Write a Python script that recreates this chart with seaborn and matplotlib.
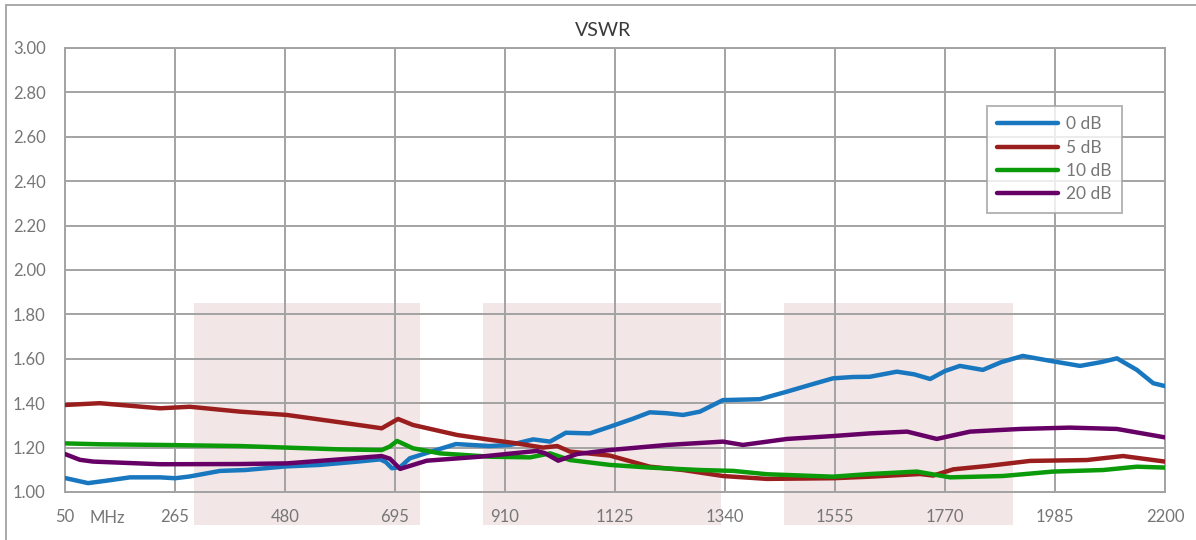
import numpy as np
import pandas as pd
import matplotlib
matplotlib.use("Agg")
import matplotlib.pyplot as plt
import matplotlib.transforms as mtransforms
from matplotlib.patches import Rectangle
import seaborn as sns

# Data (frequency in MHz, VSWR)
freq_0db = [50, 95, 128, 177, 236, 265, 294, 353, 402, 480, 548, 627, 666, 677, 689, 705,
            724, 763, 814, 880, 920, 965, 998, 1029, 1076, 1115, 1160, 1193, 1225, 1258,
            1291, 1336, 1408, 1461, 1510, 1551, 1590, 1623, 1676, 1710, 1741, 1770, 1799,
            1844, 1880, 1922, 1975, 2034, 2075, 2106, 2145, 2177, 2200]
vswr_0db = [1.063, 1.040, 1.050, 1.066, 1.066, 1.062, 1.070, 1.095, 1.099, 1.115, 1.122,
            1.138, 1.147, 1.135, 1.107, 1.112, 1.152, 1.180, 1.216, 1.207, 1.212, 1.237,
            1.227, 1.267, 1.264, 1.294, 1.330, 1.359, 1.355, 1.347, 1.362, 1.414, 1.418,
            1.452, 1.485, 1.512, 1.518, 1.519, 1.542, 1.530, 1.509, 1.545, 1.568, 1.550,
            1.585, 1.613, 1.591, 1.568, 1.585, 1.602, 1.550, 1.490, 1.477]

freq_5db = [50, 118, 236, 294, 392, 484, 587, 669, 701, 730, 816, 875, 933, 984, 1012,
            1037, 1115, 1193, 1258, 1336, 1422, 1551, 1623, 1721, 1747, 1786, 1852, 1936,
            2047, 2118, 2200]
vswr_5db = [1.392, 1.400, 1.377, 1.384, 1.362, 1.347, 1.314, 1.287, 1.329, 1.302, 1.257,
            1.237, 1.219, 1.200, 1.207, 1.182, 1.164, 1.114, 1.099, 1.072, 1.059, 1.062,
            1.069, 1.081, 1.074, 1.102, 1.117, 1.140, 1.144, 1.162, 1.137]

freq_10db = [50, 118, 236, 392, 587, 669, 685, 699, 730, 783, 881, 959, 998, 1037, 1115,
             1193, 1291, 1356, 1422, 1551, 1623, 1715, 1780, 1883, 1981, 2079, 2145, 2200]
vswr_10db = [1.219, 1.215, 1.212, 1.207, 1.192, 1.189, 1.205, 1.230, 1.197, 1.174, 1.159,
             1.156, 1.174, 1.144, 1.122, 1.110, 1.099, 1.095, 1.080, 1.069, 1.081, 1.092,
             1.066, 1.072, 1.092, 1.099, 1.114, 1.110]

freq_20db = [50, 79, 105, 236, 392, 484, 587, 669, 685, 705, 757, 861, 972, 988, 1014,
             1051, 1115, 1227, 1336, 1375, 1461, 1551, 1623, 1696, 1754, 1819, 1917, 2014,
             2106, 2200]
vswr_20db = [1.171, 1.145, 1.137, 1.125, 1.126, 1.129, 1.147, 1.162, 1.150, 1.104, 1.141,
             1.159, 1.185, 1.175, 1.141, 1.171, 1.189, 1.212, 1.227, 1.212, 1.239, 1.252,
             1.264, 1.272, 1.239, 1.272, 1.284, 1.290, 1.284, 1.246]

series_names = ["0 dB", "5 dB", "10 dB", "20 dB"]
series_colors = ["#1877BE", "#9B1E1E", "#0A9A0A", "#660066"]

# shaded frequency bands (MHz)
band_starts = [302, 867, 1455]
band_ends = [744, 1332, 1903]

x_ticks = [50, 265, 480, 695, 910, 1125, 1340, 1555, 1770, 1985, 2200]
y_ticks = [1.00, 1.20, 1.40, 1.60, 1.80, 2.00, 2.20, 2.40, 2.60, 2.80, 3.00]

frames = []
for name, f, v in zip(series_names,
                      [freq_0db, freq_5db, freq_10db, freq_20db],
                      [vswr_0db, vswr_5db, vswr_10db, vswr_20db]):
    frames.append(pd.DataFrame({"freq": f, "vswr": v, "series": name}))
df = pd.concat(frames, ignore_index=True)

sns.set_style("white")
plt.rcParams["font.family"] = ["Lato", "DejaVu Sans"]

grid_col = "#A3A3A3"
text_col = "#767676"

fig = plt.figure(figsize=(11.96, 5.40), dpi=100)
ax = fig.add_axes([65 / 1196, 48 / 540, 1100 / 1196, 444 / 540])

# outer chart border
fig.patches.append(Rectangle((6 / 1196, -0.1), 1.2, 1.1 - 5 / 540,
                             transform=fig.transFigure, fill=False,
                             edgecolor=grid_col, linewidth=1.3))

for s, e in zip(band_starts, band_ends):
    ax.add_patch(Rectangle((s, 0.85), e - s, 1.0, facecolor="#F2E6E6",
                           edgecolor="none", zorder=0.3, clip_on=False))

sns.lineplot(data=df, x="freq", y="vswr", hue="series", hue_order=series_names,
             palette=dict(zip(series_names, series_colors)), estimator=None,
             linewidth=3.2, ax=ax, zorder=3)
for ln in ax.get_lines():
    ln.set_solid_joinstyle("round")
    ln.set_solid_capstyle("round")

ax.set_xlim(50, 2200)
ax.set_ylim(1.0, 3.0)
ax.set_xticks(x_ticks)
ax.set_yticks(y_ticks)
ax.set_xticklabels([str(t) for t in x_ticks])
ax.set_yticklabels([f"{t:.2f}" for t in y_ticks])
ax.set_axisbelow(True)
ax.grid(True, color=grid_col, linewidth=1.4)
for sp in ax.spines.values():
    sp.set_color(grid_col)
    sp.set_linewidth(1.4)
ax.tick_params(axis="both", length=0, labelsize=12, labelcolor=text_col)
ax.tick_params(axis="y", pad=14)
ax.tick_params(axis="x", pad=12)
ax.set_xlabel("")
ax.set_ylabel("")

trans = mtransforms.blended_transform_factory(ax.transData, ax.transAxes)
ax.text(132, -26 / 444, "MHz", transform=trans, ha="center", va="center",
        fontsize=12, color=text_col)

fig.text(603 / 1196, 1 - 30 / 540, "VSWR", ha="center", va="center",
         fontsize=14, color="#3A3A3A")

leg = ax.legend(loc="upper left", bbox_to_anchor=(987 / 1196, 1 - 106 / 540),
                bbox_transform=fig.transFigure, borderaxespad=0, fontsize=12.5,
                frameon=True, fancybox=False, handlelength=3.5, handletextpad=0.45,
                labelspacing=0.42, borderpad=0.6, title=None)
leg.get_frame().set_edgecolor(grid_col)
leg.get_frame().set_linewidth(1.4)
for t in leg.get_texts():
    t.set_color(text_col)
for h in leg.get_lines():
    h.set_linewidth(3.2)
    h.set_solid_capstyle("round")

fig.savefig("out.png", dpi=100)
